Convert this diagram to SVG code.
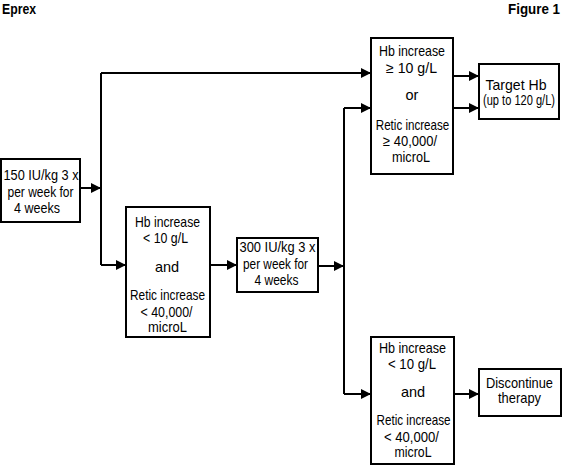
<svg xmlns="http://www.w3.org/2000/svg" width="562" height="466" viewBox="0 0 562 466">
<defs>
<marker id="ah" markerWidth="10" markerHeight="10" refX="10" refY="5" orient="auto" markerUnits="userSpaceOnUse">
<path d="M0,0 L10,5 L0,10 Z" fill="#000"/>
</marker>
<style>
.box{fill:#fff;stroke:#000;stroke-width:2}
.t{font-family:"Liberation Sans",Arial,sans-serif;font-size:14.5px;fill:#000;text-anchor:middle}
.h{font-family:"Liberation Sans",Arial,sans-serif;font-size:14px;font-weight:bold;fill:#000}
.c{fill:none;stroke:#000;stroke-width:2}
.a{fill:none;stroke:#000;stroke-width:2;marker-end:url(#ah)}
</style>
</defs>
<rect width="562" height="466" fill="#fff"/>
<text class="h" x="2" y="13.5" textLength="34" lengthAdjust="spacingAndGlyphs">Eprex</text>
<text class="h" x="560" y="13.5" text-anchor="end" textLength="52" lengthAdjust="spacingAndGlyphs">Figure 1</text>
<g id="connectors">
<path class="a" d="M80,188 H101"/>
<path class="c" d="M101,73 V265"/>
<path class="a" d="M101,73 H371"/>
<path class="a" d="M101,265 H126"/>
<path class="a" d="M210,265 H237"/>
<path class="a" d="M318,266 H344"/>
<path class="c" d="M344,108 V394"/>
<path class="a" d="M344,108 H371"/>
<path class="a" d="M344,394 H371"/>
<path class="a" d="M453,76 H479"/>
<path class="a" d="M453,108 H479"/>
<path class="a" d="M454,394 H479"/>
</g>
<g id="start">
<rect class="box" x="1" y="159" width="79" height="63"/>
<text class="t" x="41" y="180" textLength="75" lengthAdjust="spacingAndGlyphs">150 IU/kg 3 x</text>
<text class="t" x="40.5" y="196.5" textLength="66" lengthAdjust="spacingAndGlyphs">per week for</text>
<text class="t" x="37" y="213" textLength="46" lengthAdjust="spacingAndGlyphs">4 weeks</text>
</g>
<g id="response">
<rect class="box" x="371" y="38" width="82" height="136"/>
<text class="t" x="412" y="55.5" textLength="66" lengthAdjust="spacingAndGlyphs">Hb increase</text>
<text class="t" x="411.5" y="72.5" textLength="51" lengthAdjust="spacingAndGlyphs">≥ 10 g/L</text>
<text class="t" x="412" y="100">or</text>
<text class="t" x="412.5" y="129.5" textLength="73.5" lengthAdjust="spacingAndGlyphs">Retic increase</text>
<text class="t" x="410" y="146" textLength="54" lengthAdjust="spacingAndGlyphs">≥ 40,000/</text>
<text class="t" x="411" y="161.5" textLength="38" lengthAdjust="spacingAndGlyphs">microL</text>
</g>
<g id="target">
<rect class="box" x="479" y="64" width="80" height="55"/>
<text class="t" x="516" y="89.5" textLength="61" lengthAdjust="spacingAndGlyphs">Target Hb</text>
<text class="t" x="519" y="104.5" style="font-size:14px" textLength="72" lengthAdjust="spacingAndGlyphs">(up to 120 g/L)</text>
</g>
<g id="noresponse1">
<rect class="box" x="126" y="207" width="84" height="130"/>
<text class="t" x="167.5" y="226.5" textLength="65" lengthAdjust="spacingAndGlyphs">Hb increase</text>
<text class="t" x="165.5" y="243" textLength="45" lengthAdjust="spacingAndGlyphs">&lt; 10 g/L</text>
<text class="t" x="167" y="271.5">and</text>
<text class="t" x="167.5" y="300" textLength="75" lengthAdjust="spacingAndGlyphs">Retic increase</text>
<text class="t" x="166.5" y="316.5" textLength="52" lengthAdjust="spacingAndGlyphs">&lt; 40,000/</text>
<text class="t" x="167.5" y="331.5" textLength="39" lengthAdjust="spacingAndGlyphs">microL</text>
</g>
<g id="dose300">
<rect class="box" x="237" y="238" width="81" height="54"/>
<text class="t" x="277.5" y="252" textLength="76" lengthAdjust="spacingAndGlyphs">300 IU/kg 3 x</text>
<text class="t" x="275.5" y="268.5" textLength="65" lengthAdjust="spacingAndGlyphs">per week for</text>
<text class="t" x="276.5" y="285" textLength="44" lengthAdjust="spacingAndGlyphs">4 weeks</text>
</g>
<g id="noresponse2">
<rect class="box" x="371" y="337" width="83" height="127"/>
<text class="t" x="412.5" y="353" textLength="67" lengthAdjust="spacingAndGlyphs">Hb increase</text>
<text class="t" x="412" y="369" textLength="48" lengthAdjust="spacingAndGlyphs">&lt; 10 g/L</text>
<text class="t" x="413" y="396.5">and</text>
<text class="t" x="413.5" y="425" textLength="74" lengthAdjust="spacingAndGlyphs">Retic increase</text>
<text class="t" x="411.5" y="441.5" textLength="55" lengthAdjust="spacingAndGlyphs">&lt; 40,000/</text>
<text class="t" x="413" y="457" textLength="37" lengthAdjust="spacingAndGlyphs">microL</text>
</g>
<g id="discontinue">
<rect class="box" x="479" y="369" width="82" height="47"/>
<text class="t" x="519.5" y="388" textLength="67" lengthAdjust="spacingAndGlyphs">Discontinue</text>
<text class="t" x="519.5" y="403" textLength="43" lengthAdjust="spacingAndGlyphs">therapy</text>
</g>
</svg>
